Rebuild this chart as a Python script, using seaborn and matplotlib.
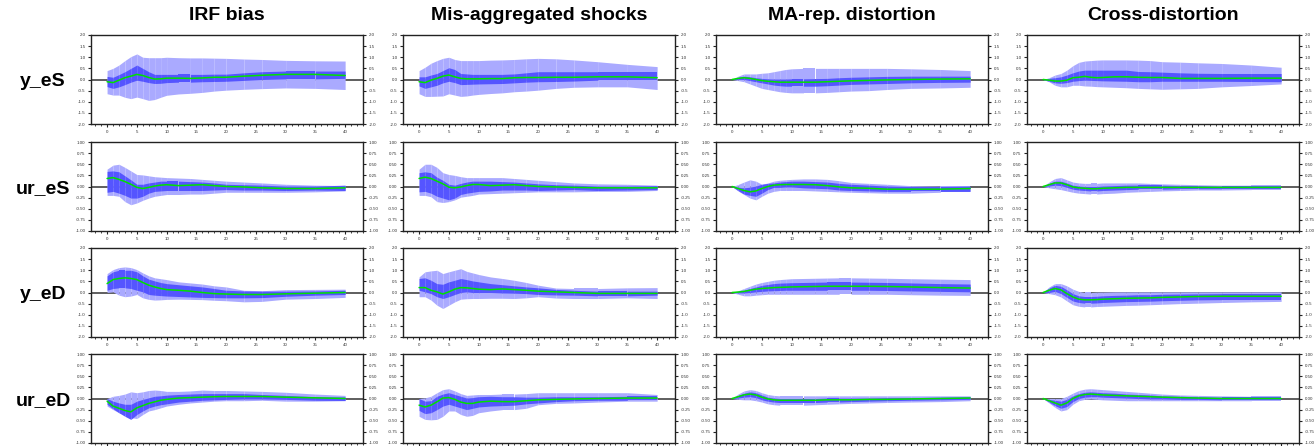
import matplotlib
matplotlib.use("Agg")
import matplotlib.pyplot as plt
from matplotlib.ticker import FormatStrFormatter, MultipleLocator
import numpy as np
import pandas as pd
import seaborn as sns

# Impulse-response horizons (quarters)
horizons = [0, 1, 2, 3, 4, 5, 6, 7, 8, 9, 10, 12, 14, 16, 18, 20, 23, 26, 30, 35, 40]

column_titles = ["IRF bias", "Mis-aggregated shocks", "MA-rep. distortion", "Cross-distortion"]
row_labels = ["y_eS", "ur_eS", "y_eD", "ur_eD"]

# ---- y_eS ----
yeS_irf_med = [-0.10, -0.14, -0.03, 0.08, 0.15, 0.23, 0.18, 0.09, 0.02, 0.03, 0.06, 0.06, 0.05, 0.07, 0.10, 0.10, 0.15, 0.19, 0.23, 0.23, 0.18]
yeS_irf_hi68 = [0.14, 0.10, 0.22, 0.35, 0.50, 0.65, 0.50, 0.35, 0.23, 0.23, 0.23, 0.23, 0.23, 0.23, 0.24, 0.24, 0.30, 0.35, 0.38, 0.38, 0.38]
yeS_irf_lo68 = [-0.32, -0.40, -0.33, -0.23, -0.12, -0.03, -0.08, -0.14, -0.18, -0.17, -0.14, -0.12, -0.12, -0.10, -0.09, -0.08, -0.04, 0.00, 0.03, 0.03, 0.05]
yeS_irf_hi90 = [0.40, 0.50, 0.65, 0.85, 1.03, 1.15, 1.00, 0.98, 0.98, 0.98, 1.00, 0.98, 0.97, 0.97, 0.96, 0.95, 0.92, 0.90, 0.86, 0.84, 0.83]
yeS_irf_lo90 = [-0.64, -0.70, -0.70, -0.80, -0.86, -0.79, -0.86, -0.94, -0.90, -0.80, -0.71, -0.65, -0.62, -0.58, -0.52, -0.48, -0.44, -0.41, -0.38, -0.40, -0.45]

yeS_mis_med = [-0.10, -0.14, -0.03, 0.05, 0.15, 0.20, 0.12, 0.05, 0.03, 0.03, 0.03, 0.04, 0.04, 0.08, 0.09, 0.09, 0.10, 0.10, 0.12, 0.12, 0.08]
yeS_mis_hi68 = [0.12, 0.12, 0.20, 0.27, 0.40, 0.53, 0.45, 0.27, 0.25, 0.23, 0.23, 0.23, 0.23, 0.25, 0.30, 0.35, 0.35, 0.35, 0.35, 0.35, 0.35]
yeS_mis_lo68 = [-0.29, -0.40, -0.33, -0.26, -0.15, -0.08, -0.14, -0.23, -0.22, -0.21, -0.20, -0.19, -0.18, -0.15, -0.12, -0.10, -0.09, -0.07, -0.03, -0.03, -0.03]
yeS_mis_hi90 = [0.40, 0.55, 0.73, 0.85, 0.95, 1.00, 0.90, 0.85, 0.85, 0.85, 0.85, 0.87, 0.88, 0.90, 0.93, 0.95, 0.93, 0.88, 0.80, 0.68, 0.58]
yeS_mis_lo90 = [-0.64, -0.76, -0.76, -0.75, -0.74, -0.64, -0.70, -0.76, -0.74, -0.70, -0.67, -0.63, -0.60, -0.55, -0.52, -0.48, -0.40, -0.35, -0.33, -0.33, -0.45]

yeS_ma_med = [0.00, 0.05, 0.08, 0.05, 0.00, -0.05, -0.08, -0.10, -0.12, -0.12, -0.12, -0.12, -0.12, -0.10, -0.08, -0.06, -0.04, -0.02, 0.00, 0.02, 0.03]
yeS_ma_hi68 = [0.00, 0.10, 0.15, 0.12, 0.08, 0.05, 0.03, 0.02, 0.02, 0.02, 0.03, 0.03, 0.04, 0.05, 0.08, 0.10, 0.12, 0.14, 0.15, 0.15, 0.15]
yeS_ma_lo68 = [0.00, 0.00, 0.00, -0.05, -0.10, -0.15, -0.20, -0.25, -0.28, -0.30, -0.30, -0.30, -0.30, -0.28, -0.25, -0.22, -0.20, -0.18, -0.15, -0.13, -0.12]
yeS_ma_hi90 = [0.00, 0.15, 0.25, 0.25, 0.25, 0.28, 0.30, 0.35, 0.40, 0.45, 0.48, 0.50, 0.50, 0.50, 0.50, 0.50, 0.50, 0.50, 0.48, 0.45, 0.40]
yeS_ma_lo90 = [0.00, -0.05, -0.10, -0.20, -0.30, -0.40, -0.45, -0.50, -0.55, -0.58, -0.60, -0.60, -0.60, -0.58, -0.55, -0.52, -0.50, -0.45, -0.40, -0.38, -0.35]

yeS_cross_med = [0.00, -0.03, -0.07, -0.07, -0.03, 0.08, 0.10, 0.14, 0.10, 0.08, 0.09, 0.12, 0.12, 0.10, 0.09, 0.09, 0.05, 0.05, 0.05, 0.06, 0.06]
yeS_cross_hi68 = [0.00, 0.05, 0.08, 0.12, 0.20, 0.30, 0.38, 0.42, 0.42, 0.42, 0.42, 0.42, 0.42, 0.36, 0.35, 0.33, 0.30, 0.28, 0.27, 0.27, 0.27]
yeS_cross_lo68 = [0.00, -0.08, -0.15, -0.17, -0.14, -0.08, -0.05, -0.03, -0.04, -0.05, -0.06, -0.07, -0.08, -0.10, -0.10, -0.08, -0.08, -0.08, -0.08, -0.09, -0.10]
yeS_cross_hi90 = [0.00, 0.08, 0.20, 0.27, 0.42, 0.62, 0.77, 0.83, 0.85, 0.87, 0.88, 0.88, 0.88, 0.87, 0.85, 0.80, 0.78, 0.75, 0.72, 0.65, 0.55]
yeS_cross_lo90 = [0.00, -0.10, -0.26, -0.33, -0.33, -0.26, -0.26, -0.29, -0.30, -0.32, -0.33, -0.35, -0.37, -0.40, -0.42, -0.44, -0.42, -0.40, -0.33, -0.27, -0.20]

# ---- ur_eS ----
ureS_irf_med = [0.18, 0.20, 0.16, 0.11, 0.05, -0.02, -0.045, -0.02, 0.01, 0.03, 0.04, 0.02, 0.03, 0.04, 0.02, 0.00, -0.01, -0.03, -0.045, -0.045, -0.03]
ureS_irf_hi68 = [0.34, 0.35, 0.33, 0.24, 0.15, 0.05, 0.05, 0.08, 0.10, 0.12, 0.12, 0.12, 0.11, 0.10, 0.08, 0.05, 0.04, 0.03, 0.01, 0.01, 0.03]
ureS_irf_lo68 = [-0.13, -0.11, -0.15, -0.20, -0.26, -0.26, -0.22, -0.15, -0.11, -0.10, -0.09, -0.09, -0.09, -0.09, -0.08, -0.07, -0.08, -0.08, -0.09, -0.08, -0.09]
ureS_irf_hi90 = [0.39, 0.48, 0.50, 0.43, 0.35, 0.27, 0.26, 0.24, 0.22, 0.21, 0.20, 0.19, 0.18, 0.16, 0.14, 0.12, 0.10, 0.08, 0.05, 0.03, 0.02]
ureS_irf_lo90 = [-0.20, -0.20, -0.22, -0.34, -0.41, -0.37, -0.31, -0.26, -0.22, -0.20, -0.18, -0.18, -0.17, -0.17, -0.15, -0.13, -0.13, -0.13, -0.13, -0.12, -0.10]

ureS_mis_med = [0.18, 0.21, 0.18, 0.12, 0.06, -0.015, -0.03, -0.01, 0.02, 0.045, 0.045, 0.02, 0.03, 0.04, 0.02, 0.00, -0.01, -0.02, -0.03, -0.03, -0.03]
ureS_mis_hi68 = [0.31, 0.33, 0.31, 0.21, 0.14, 0.05, 0.03, 0.07, 0.10, 0.12, 0.12, 0.12, 0.11, 0.10, 0.08, 0.06, 0.04, 0.03, 0.01, 0.01, 0.02]
ureS_mis_lo68 = [-0.12, -0.11, -0.15, -0.22, -0.26, -0.30, -0.26, -0.18, -0.15, -0.13, -0.11, -0.10, -0.08, -0.08, -0.08, -0.09, -0.08, -0.07, -0.09, -0.08, -0.07]
ureS_mis_hi90 = [0.39, 0.50, 0.50, 0.43, 0.31, 0.27, 0.25, 0.22, 0.20, 0.20, 0.20, 0.20, 0.20, 0.18, 0.16, 0.14, 0.11, 0.08, 0.06, 0.05, 0.03]
ureS_mis_lo90 = [-0.20, -0.20, -0.23, -0.34, -0.36, -0.34, -0.30, -0.24, -0.22, -0.20, -0.17, -0.16, -0.15, -0.14, -0.13, -0.12, -0.12, -0.12, -0.11, -0.11, -0.09]

ureS_ma_med = [0.00, -0.045, -0.09, -0.12, -0.10, -0.045, 0.00, 0.03, 0.04, 0.045, 0.045, 0.045, 0.04, 0.02, -0.01, -0.03, -0.04, -0.06, -0.06, -0.06, -0.045]
ureS_ma_hi68 = [0.00, -0.015, -0.03, -0.015, 0.01, 0.05, 0.07, 0.08, 0.10, 0.11, 0.12, 0.12, 0.11, 0.10, 0.07, 0.05, 0.03, 0.01, 0.00, 0.00, 0.01]
ureS_ma_lo68 = [0.00, -0.09, -0.17, -0.20, -0.22, -0.15, -0.07, -0.02, -0.02, -0.01, -0.01, -0.03, -0.04, -0.05, -0.08, -0.09, -0.10, -0.11, -0.11, -0.11, -0.11]
ureS_ma_hi90 = [0.00, 0.045, 0.10, 0.15, 0.12, 0.05, 0.08, 0.12, 0.14, 0.15, 0.16, 0.17, 0.17, 0.16, 0.13, 0.09, 0.07, 0.05, 0.02, 0.01, 0.01]
ureS_ma_lo90 = [0.00, -0.10, -0.18, -0.26, -0.30, -0.22, -0.15, -0.11, -0.09, -0.09, -0.09, -0.09, -0.10, -0.11, -0.12, -0.13, -0.14, -0.15, -0.15, -0.13, -0.13]

ureS_cross_med = [0.00, 0.04, 0.08, 0.08, 0.04, -0.01, -0.03, -0.04, -0.05, -0.05, -0.04, -0.03, -0.02, -0.02, -0.02, -0.02, -0.02, -0.02, -0.02, -0.02, -0.02]
ureS_cross_hi68 = [0.00, 0.07, 0.12, 0.12, 0.08, 0.03, 0.01, 0.00, 0.00, 0.00, 0.01, 0.02, 0.03, 0.03, 0.03, 0.03, 0.02, 0.02, 0.01, 0.01, 0.01]
ureS_cross_lo68 = [0.00, 0.01, 0.03, 0.02, -0.02, -0.06, -0.08, -0.09, -0.10, -0.10, -0.09, -0.08, -0.07, -0.06, -0.06, -0.06, -0.05, -0.05, -0.05, -0.05, -0.05]
ureS_cross_hi90 = [0.00, 0.10, 0.18, 0.20, 0.15, 0.10, 0.08, 0.07, 0.07, 0.07, 0.08, 0.08, 0.08, 0.08, 0.07, 0.06, 0.05, 0.04, 0.03, 0.03, 0.03]
ureS_cross_lo90 = [0.00, -0.03, -0.05, -0.07, -0.10, -0.13, -0.15, -0.16, -0.17, -0.17, -0.16, -0.15, -0.13, -0.12, -0.11, -0.10, -0.09, -0.08, -0.08, -0.07, -0.07]

# ---- y_eD ----
yeD_irf_med = [0.40, 0.58, 0.63, 0.66, 0.63, 0.58, 0.45, 0.33, 0.25, 0.18, 0.13, 0.10, 0.06, 0.00, -0.05, -0.07, -0.09, -0.09, -0.06, -0.03, 0.00]
yeD_irf_hi68 = [0.75, 0.93, 1.00, 1.00, 1.00, 0.93, 0.75, 0.60, 0.52, 0.45, 0.40, 0.35, 0.30, 0.25, 0.18, 0.10, 0.07, 0.06, 0.06, 0.07, 0.10]
yeD_irf_lo68 = [0.10, 0.18, 0.21, 0.21, 0.18, 0.10, 0.03, -0.09, -0.12, -0.14, -0.16, -0.18, -0.20, -0.22, -0.23, -0.24, -0.24, -0.23, -0.17, -0.12, -0.09]
yeD_irf_hi90 = [0.85, 1.03, 1.12, 1.15, 1.12, 1.03, 0.88, 0.75, 0.66, 0.62, 0.58, 0.48, 0.43, 0.38, 0.30, 0.25, 0.10, 0.08, 0.13, 0.14, 0.15]
yeD_irf_lo90 = [0.00, 0.03, -0.12, -0.19, -0.16, -0.09, -0.24, -0.31, -0.34, -0.33, -0.31, -0.30, -0.31, -0.32, -0.35, -0.37, -0.42, -0.40, -0.30, -0.27, -0.22]

yeD_mis_med = [0.22, 0.22, 0.10, 0.03, -0.07, 0.03, 0.15, 0.22, 0.21, 0.18, 0.15, 0.13, 0.16, 0.13, 0.10, 0.06, 0.03, 0.00, -0.04, -0.04, -0.04]
yeD_mis_hi68 = [0.63, 0.66, 0.55, 0.40, 0.37, 0.48, 0.55, 0.63, 0.58, 0.52, 0.48, 0.40, 0.35, 0.30, 0.25, 0.21, 0.14, 0.10, 0.06, 0.06, 0.06]
yeD_mis_lo68 = [0.10, 0.03, -0.05, -0.19, -0.27, -0.19, -0.09, 0.00, 0.03, 0.00, 0.00, 0.00, -0.02, -0.03, -0.05, -0.09, -0.11, -0.12, -0.15, -0.15, -0.12]
yeD_mis_hi90 = [0.70, 0.93, 0.97, 1.00, 0.85, 0.93, 1.00, 1.07, 0.95, 0.88, 0.81, 0.70, 0.63, 0.55, 0.45, 0.33, 0.20, 0.18, 0.18, 0.21, 0.22]
yeD_mis_lo90 = [-0.19, -0.19, -0.34, -0.57, -0.72, -0.57, -0.42, -0.30, -0.28, -0.27, -0.27, -0.26, -0.26, -0.27, -0.24, -0.19, -0.25, -0.27, -0.27, -0.24, -0.27]

yeD_ma_med = [0.00, 0.02, 0.05, 0.10, 0.15, 0.18, 0.20, 0.22, 0.23, 0.24, 0.25, 0.26, 0.27, 0.28, 0.28, 0.28, 0.28, 0.27, 0.25, 0.22, 0.20]
yeD_ma_hi68 = [0.00, 0.05, 0.10, 0.18, 0.25, 0.32, 0.36, 0.40, 0.42, 0.43, 0.44, 0.45, 0.46, 0.47, 0.47, 0.47, 0.46, 0.45, 0.43, 0.40, 0.38]
yeD_ma_lo68 = [0.00, -0.02, -0.02, 0.00, 0.03, 0.05, 0.07, 0.08, 0.09, 0.10, 0.10, 0.10, 0.10, 0.10, 0.10, 0.10, 0.10, 0.09, 0.07, 0.05, 0.03]
yeD_ma_hi90 = [0.00, 0.08, 0.18, 0.28, 0.38, 0.45, 0.50, 0.55, 0.58, 0.60, 0.62, 0.63, 0.64, 0.65, 0.66, 0.66, 0.65, 0.64, 0.62, 0.60, 0.58]
yeD_ma_lo90 = [0.00, -0.08, -0.15, -0.15, -0.12, -0.10, -0.08, -0.08, -0.08, -0.08, -0.08, -0.08, -0.08, -0.08, -0.08, -0.08, -0.08, -0.08, -0.10, -0.12, -0.13]

yeD_cross_med = [0.00, 0.10, 0.18, 0.12, -0.05, -0.20, -0.30, -0.33, -0.33, -0.32, -0.30, -0.28, -0.26, -0.25, -0.24, -0.22, -0.20, -0.18, -0.17, -0.17, -0.17]
yeD_cross_hi68 = [0.00, 0.20, 0.32, 0.28, 0.12, -0.05, -0.15, -0.18, -0.18, -0.17, -0.15, -0.13, -0.12, -0.10, -0.10, -0.08, -0.07, -0.06, -0.05, -0.05, -0.05]
yeD_cross_lo68 = [0.00, 0.00, 0.05, -0.05, -0.22, -0.38, -0.45, -0.48, -0.48, -0.47, -0.45, -0.43, -0.41, -0.40, -0.39, -0.37, -0.35, -0.33, -0.32, -0.32, -0.32]
yeD_cross_hi90 = [0.00, 0.25, 0.40, 0.40, 0.30, 0.15, 0.05, 0.00, 0.00, 0.02, 0.02, 0.03, 0.03, 0.03, 0.03, 0.03, 0.03, 0.03, 0.03, 0.03, 0.03]
yeD_cross_lo90 = [0.00, -0.05, -0.10, -0.20, -0.38, -0.55, -0.62, -0.65, -0.65, -0.63, -0.62, -0.60, -0.58, -0.57, -0.55, -0.53, -0.50, -0.48, -0.45, -0.42, -0.40]

# ---- ur_eD ----
ureD_irf_med = [-0.06, -0.17, -0.22, -0.27, -0.30, -0.21, -0.16, -0.11, -0.075, -0.04, -0.02, 0.01, 0.02, 0.03, 0.04, 0.045, 0.045, 0.045, 0.03, 0.015, 0.00]
ureD_irf_hi68 = [0.00, -0.06, -0.10, -0.13, -0.13, -0.06, -0.02, 0.015, 0.05, 0.06, 0.075, 0.09, 0.10, 0.11, 0.11, 0.11, 0.11, 0.09, 0.07, 0.04, 0.035]
ureD_irf_lo68 = [-0.13, -0.23, -0.32, -0.40, -0.47, -0.36, -0.28, -0.21, -0.17, -0.14, -0.12, -0.08, -0.06, -0.04, -0.03, -0.02, -0.01, -0.01, -0.02, -0.04, -0.045]
ureD_irf_hi90 = [0.00, 0.05, 0.07, 0.10, 0.15, 0.13, 0.15, 0.18, 0.19, 0.18, 0.16, 0.16, 0.17, 0.19, 0.18, 0.18, 0.17, 0.16, 0.14, 0.10, 0.07]
ureD_irf_lo90 = [-0.17, -0.25, -0.32, -0.36, -0.43, -0.45, -0.36, -0.28, -0.25, -0.21, -0.17, -0.13, -0.10, -0.08, -0.06, -0.05, -0.05, -0.04, -0.06, -0.06, -0.05]

ureD_mis_med = [-0.15, -0.19, -0.15, -0.075, 0.01, 0.02, -0.02, -0.08, -0.11, -0.11, -0.08, -0.06, -0.07, -0.07, -0.05, -0.03, -0.02, -0.01, 0.00, 0.01, 0.01]
ureD_mis_hi68 = [0.00, -0.06, -0.05, 0.05, 0.10, 0.13, 0.09, 0.05, 0.01, 0.02, 0.04, 0.05, 0.04, 0.04, 0.03, 0.03, 0.04, 0.04, 0.04, 0.05, 0.05]
ureD_mis_lo68 = [-0.27, -0.34, -0.32, -0.25, -0.17, -0.13, -0.17, -0.21, -0.25, -0.22, -0.19, -0.17, -0.16, -0.15, -0.12, -0.10, -0.07, -0.05, -0.04, -0.04, -0.04]
ureD_mis_hi90 = [0.00, 0.015, 0.05, 0.13, 0.20, 0.22, 0.17, 0.11, 0.07, 0.08, 0.09, 0.09, 0.10, 0.10, 0.11, 0.13, 0.13, 0.13, 0.13, 0.13, 0.09]
ureD_mis_lo90 = [-0.40, -0.47, -0.48, -0.47, -0.40, -0.28, -0.28, -0.36, -0.40, -0.38, -0.32, -0.28, -0.25, -0.25, -0.22, -0.14, -0.11, -0.10, -0.08, -0.06, -0.06]

ureD_ma_med = [0.00, 0.04, 0.08, 0.10, 0.08, 0.03, -0.01, -0.03, -0.04, -0.04, -0.04, -0.04, -0.04, -0.03, -0.03, -0.03, -0.02, -0.02, -0.01, 0.00, 0.01]
ureD_ma_hi68 = [0.00, 0.07, 0.12, 0.15, 0.13, 0.08, 0.03, 0.01, 0.00, 0.00, 0.00, 0.00, 0.00, 0.01, 0.01, 0.01, 0.01, 0.02, 0.02, 0.03, 0.04]
ureD_ma_lo68 = [0.00, 0.01, 0.03, 0.04, 0.02, -0.03, -0.06, -0.08, -0.09, -0.09, -0.09, -0.09, -0.09, -0.08, -0.08, -0.07, -0.06, -0.05, -0.04, -0.03, -0.02]
ureD_ma_hi90 = [0.00, 0.10, 0.17, 0.20, 0.18, 0.13, 0.09, 0.07, 0.06, 0.06, 0.06, 0.06, 0.06, 0.06, 0.06, 0.06, 0.06, 0.06, 0.06, 0.06, 0.06]
ureD_ma_lo90 = [0.00, -0.02, -0.03, -0.03, -0.05, -0.08, -0.12, -0.14, -0.15, -0.15, -0.15, -0.15, -0.14, -0.13, -0.12, -0.11, -0.10, -0.09, -0.08, -0.07, -0.05]

ureD_cross_med = [0.00, -0.05, -0.10, -0.15, -0.10, 0.00, 0.06, 0.09, 0.10, 0.09, 0.08, 0.07, 0.06, 0.05, 0.04, 0.03, 0.02, 0.01, 0.00, 0.00, 0.00]
ureD_cross_hi68 = [0.00, -0.02, -0.04, -0.06, -0.02, 0.06, 0.11, 0.14, 0.15, 0.14, 0.13, 0.12, 0.10, 0.09, 0.08, 0.06, 0.05, 0.04, 0.03, 0.03, 0.03]
ureD_cross_lo68 = [0.00, -0.08, -0.16, -0.22, -0.18, -0.07, 0.00, 0.03, 0.04, 0.04, 0.03, 0.02, 0.01, 0.00, -0.01, -0.01, -0.02, -0.02, -0.03, -0.03, -0.03]
ureD_cross_hi90 = [0.00, 0.00, 0.00, 0.00, 0.05, 0.12, 0.18, 0.21, 0.22, 0.21, 0.20, 0.18, 0.16, 0.14, 0.12, 0.10, 0.08, 0.07, 0.06, 0.05, 0.05]
ureD_cross_lo90 = [0.00, -0.10, -0.20, -0.28, -0.25, -0.13, -0.05, -0.02, -0.01, -0.02, -0.03, -0.04, -0.05, -0.05, -0.05, -0.05, -0.05, -0.05, -0.05, -0.05, -0.05]

g = globals()
row_keys = ["yeS", "ureS", "yeD", "ureD"]
col_keys = ["irf", "mis", "ma", "cross"]
y_limits = [2.0, 1.0, 2.0, 1.0]
y_steps = [0.5, 0.25, 0.5, 0.25]
y_formats = ["%.1f", "%.2f", "%.1f", "%.2f"]

# Long-format table of all responses
records = []
for rk, rlab in zip(row_keys, row_labels):
    for ck, clab in zip(col_keys, column_titles):
        for k, h in enumerate(horizons):
            records.append({
                "variable": rlab, "panel": clab, "horizon": h,
                "median": g[f"{rk}_{ck}_med"][k],
                "lo68": g[f"{rk}_{ck}_lo68"][k], "hi68": g[f"{rk}_{ck}_hi68"][k],
                "lo90": g[f"{rk}_{ck}_lo90"][k], "hi90": g[f"{rk}_{ck}_hi90"][k],
            })
df = pd.DataFrame(records)

sns.set_theme(style="ticks")
plt.rcParams["font.family"] = ["Liberation Sans", "DejaVu Sans"]

W, H = 1316, 446
fig = plt.figure(figsize=(W / 100, H / 100), dpi=100)

col_left = [91, 403, 716, 1027]
row_top = [35, 142, 248, 354]
ax_w, ax_h = 272, 89

light_blue = "#AAAAFF"
dark_blue = "#5555FF"
line_green = "#00E000"
spine_col = "#222222"


def band(ax, x, lo, hi, color, z):
    # each horizon interval is filled as its own patch, leaving faint seams between them
    x, lo, hi = np.asarray(x), np.asarray(lo), np.asarray(hi)
    for k in range(len(x) - 1):
        ax.fill_between(x[k:k + 2], lo[k:k + 2], hi[k:k + 2], color=color, lw=0,
                        antialiased=True, zorder=z)


for i, rlab in enumerate(row_labels):
    for j, clab in enumerate(column_titles):
        ax = fig.add_axes([col_left[j] / W, 1 - (row_top[i] + ax_h) / H, ax_w / W, ax_h / H])
        sub = df[(df["variable"] == rlab) & (df["panel"] == clab)]
        # zero reference line sits underneath the bands
        ax.axhline(0, color="#333333", lw=1.1, zorder=0.5)
        band(ax, sub["horizon"], sub["lo90"], sub["hi90"], light_blue, 1)
        band(ax, sub["horizon"], sub["lo68"], sub["hi68"], dark_blue, 2)
        sns.lineplot(data=sub, x="horizon", y="median", ax=ax, color=line_green, lw=1.1, zorder=4)

        lim = y_limits[i]
        ax.set_xlim(-2.7, 43)
        ax.set_ylim(-lim, lim)
        ax.set_xticks(range(0, 41, 5))
        ax.xaxis.set_minor_locator(MultipleLocator(1))
        ax.yaxis.set_major_locator(MultipleLocator(y_steps[i]))
        ax.yaxis.set_major_formatter(FormatStrFormatter(y_formats[i]))
        ax.set_xlabel("")
        ax.set_ylabel("")
        ax.tick_params(axis="both", which="major", labelsize=3.2, length=2.5, width=0.8,
                       pad=1.5, colors=spine_col, labelcolor="#333333")
        ax.tick_params(axis="x", which="minor", length=1.5, width=0.6, colors=spine_col)
        ax.tick_params(axis="y", left=True, right=True, labelleft=True, labelright=True)
        if i == len(row_labels) - 1:
            # the bottom row's horizon labels fall outside the figure
            ax.tick_params(axis="x", labelbottom=False)
        for s in ax.spines.values():
            s.set_visible(True)
            s.set_color(spine_col)
            s.set_linewidth(1.0)

for j, clab in enumerate(column_titles):
    fig.text((col_left[j] + ax_w / 2) / W, 1 - 16 / H, clab, ha="center", va="center",
             fontsize=14, fontweight="bold", color="black")
for i, rlab in enumerate(row_labels):
    fig.text(43 / W, 1 - (row_top[i] + ax_h / 2 + 2) / H, rlab, ha="center", va="center",
             fontsize=14, fontweight="bold", color="black")

fig.savefig("out.png", dpi=100)
